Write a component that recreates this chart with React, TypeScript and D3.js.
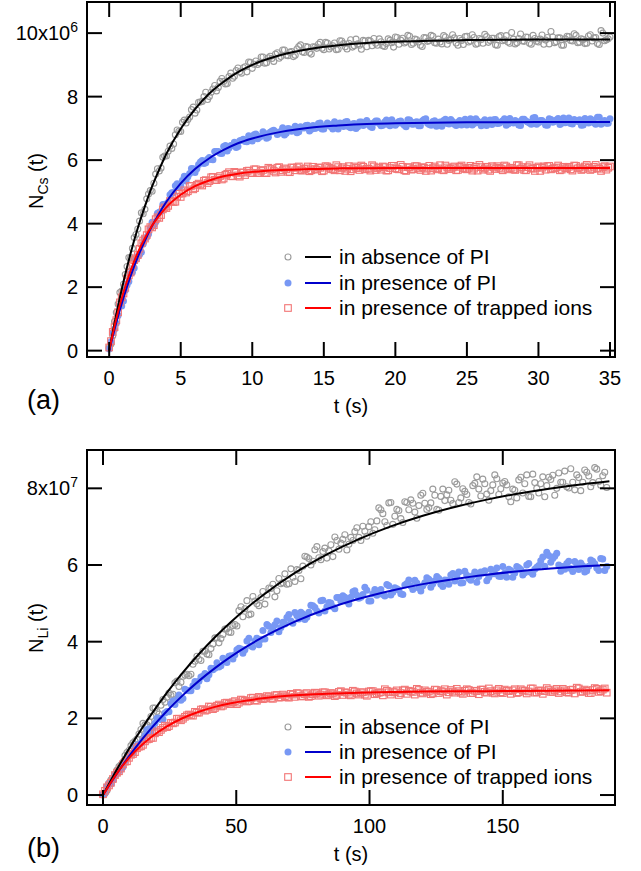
import React from "react";
import * as d3 from "d3";

const FONT = "'Liberation Sans', Arial, Helvetica, sans-serif";

// ---------- Panel (a): Cs, units of 1e6, t in s ----------
// two interleaved sample sets: t = i*0.25 and t = 0.125 + i*0.25
const stepA = 0.25;
const grayA = [0.1,0.47,1.2,1.83,2.09,2.65,2.93,3.56,3.83,4.34,4.45,4.93,5.02,5.56,5.66,6.09,6.13,6.44,6.51,6.95,6.9,7.26,7.28,7.59,7.48,7.82,7.85,8.14,8.0,8.24,8.18,8.48,8.48,8.41,8.74,8.64,8.9,8.74,8.94,9.09,8.89,9.12,9.06,9.25,9.07,9.27,9.11,9.38,9.26,9.47,9.29,9.42,9.3,9.58,9.41,9.58,9.39,9.57,9.52,9.71,9.48,9.69,9.56,9.69,9.49,9.75,9.57,9.68,9.56,9.81,9.62,9.77,9.57,9.75,9.83,9.62,9.73,9.58,9.82,9.7,9.88,
9.65,9.84,9.72,9.9,9.68,9.79,9.62,9.86,9.74,9.93,9.7,9.81,9.66,9.88,9.77,9.95,9.69,9.83,9.64,9.9,9.75,9.86,9.67,9.8,9.96,9.71,9.84,9.63,9.89,9.76,9.92,9.68,9.81,9.7,9.97,9.74,9.87,9.65,9.83,9.72,9.94,9.78,9.66,9.88,9.73,9.85,9.62,9.9,9.77,9.98,9.7,9.82,9.67,9.91,9.75,9.86,9.64,10.0,9.79,9.88];
const grayA2 = [0.21,0.92,1.47,1.88,2.40,2.93,3.22,3.66,4.08,4.31,4.78,5.04,5.27,5.73,5.75,6.13,6.28,6.37,6.80,6.91,7.19,7.17,7.36,7.67,7.58,7.83,8.0,7.91,8.14,8.35,8.29,8.57,8.40,8.63,8.58,8.82,8.78,8.91,8.78,9.08,9.02,9.01,9.25,9.05,9.22,9.20,9.34,9.21,9.47,9.30,9.40,9.26,9.50,9.63,9.39,9.56,9.34,9.56,9.65,9.52,9.71,9.50,9.60,9.48,9.76,9.67,9.50,9.79,9.60,9.66,9.49,9.75,9.77,9.60,9.68,9.82,9.60,9.67,9.77,9.56,9.86,9.78,9.69,9.93,9.64,9.81,9.72,9.58,9.85,9.76,9.90,9.68,9.72,9.92,9.65,9.80,9.85,9.62,9.77,9.89,9.72,9.95,9.65,9.83,9.68,9.89,9.77,9.84,9.62,9.92,9.79,9.72,10.02,9.66,9.83,9.75,9.88,9.68,9.93,9.74,9.81,9.65,9.86,10.05,9.70,9.85,9.62,9.82,9.89,9.75,9.93,9.71,9.80,9.68,9.95,9.85,9.67,10.08,9.76,9.82];
const blueA = [0.05,0.56,0.86,1.41,1.56,2.07,2.44,2.6,2.97,3.1,3.54,3.67,4.04,4.05,4.36,4.6,4.59,4.91,4.98,5.26,5.19,5.49,5.48,5.74,5.61,5.86,5.99,5.92,6.08,6.01,6.27,6.22,6.43,6.29,6.46,6.56,6.43,6.63,6.59,6.77,6.6,6.82,6.72,6.89,6.69,6.88,6.94,6.81,6.91,6.79,7.0,6.91,7.07,6.89,7.02,7.09,6.92,7.09,7.02,7.17,6.98,7.17,7.05,7.21,6.98,7.15,7.2,7.05,7.14,7.0,7.2,7.09,7.25,
7.06,7.18,7.23,7.08,7.2,7.12,7.27,7.1,7.22,7.15,7.05,7.26,7.13,7.21,7.08,7.28,7.16,7.1,7.24,7.17,7.07,7.29,7.14,7.22,7.09,7.25,7.18,7.11,7.3,7.15,7.23,7.08,7.27,7.19,7.12,7.28,7.16,7.24,7.1,7.31,7.17,7.22,7.09,7.29,7.2,7.13,7.34,7.18,7.25,7.11,7.3,7.19,7.26,7.12,7.33,7.2,7.15,7.28,7.22,7.1,7.31,7.17,7.26,7.13,7.35,7.21,7.16,7.3];
const blueA2 = [0.28,0.67,1.11,1.41,1.90,2.18,2.47,2.87,3.03,3.36,3.57,3.86,3.96,4.33,4.39,4.61,4.67,4.97,5.19,5.14,5.37,5.34,5.58,5.73,5.73,5.94,5.89,6.03,6.02,6.27,6.27,6.21,6.46,6.38,6.47,6.40,6.61,6.66,6.58,6.66,6.80,6.67,6.75,6.84,6.72,6.92,6.89,6.85,7.02,6.85,6.98,6.94,6.86,7.05,7.01,7.10,6.97,7.0,7.15,6.98,7.08,7.12,6.98,7.08,7.17,7.06,7.22,7.02,7.15,7.05,7.20,7.12,7.17,7.03,7.23,7.15,7.10,7.26,7.08,7.18,7.15,7.23,7.10,7.27,7.14,7.19,7.08,7.23,7.30,7.12,7.22,7.07,7.20,7.25,7.15,7.28,7.13,7.19,7.11,7.29,7.23,7.11,7.30,7.17,7.21,7.09,7.26,7.27,7.15,7.20,7.30,7.14,7.19,7.25,7.11,7.29,7.23,7.17,7.33,7.13,7.25,7.19,7.10,7.28,7.22,7.31,7.16,7.18,7.33,7.14,7.24,7.27,7.11,7.21,7.30,7.18,7.35,7.13,7.25,7.16];
const redA = [0.1,0.59,0.96,1.52,1.8,2.27,2.46,2.85,3.01,3.38,3.53,3.82,3.88,4.14,4.18,4.45,4.49,4.71,4.68,4.85,4.84,5.05,5.02,5.19,5.12,5.26,5.2,5.37,5.34,5.47,5.37,5.5,5.42,5.57,5.5,5.63,5.52,5.61,5.53,5.67,5.59,5.71,5.59,5.69,5.59,5.72,5.66,5.76,5.63,5.74,5.63,5.77,5.68,5.8,5.67,5.74,5.65,
5.79,5.7,5.76,5.67,5.8,5.72,5.68,5.78,5.74,5.66,5.81,5.71,5.76,5.69,5.79,5.73,5.67,5.8,5.75,5.7,5.78,5.68,5.82,5.74,5.71,5.79,5.66,5.77,5.72,5.81,5.69,5.76,5.73,5.67,5.8,5.74,5.7,5.83,5.72,5.77,5.68,5.79,5.75,5.71,5.82,5.73,5.67,5.78,5.74,5.7,5.81,5.72,5.76,5.68,5.8,5.75,5.71,5.84,5.73,5.69,5.78,5.74,5.66,5.8,5.76,5.7,5.82,5.73,5.77,5.68,5.79,5.75,5.71,5.83,5.74,5.69,5.8,5.76,5.72,5.85,5.73,5.78,5.7,5.8];
const redA2 = [0.30,0.74,1.21,1.68,1.98,2.37,2.69,2.91,3.21,3.47,3.64,3.89,3.95,4.20,4.27,4.51,4.56,4.71,4.69,4.94,4.95,4.98,5.18,5.08,5.22,5.23,5.35,5.28,5.46,5.38,5.45,5.39,5.54,5.62,5.49,5.60,5.48,5.61,5.66,5.60,5.71,5.60,5.66,5.60,5.76,5.71,5.61,5.78,5.68,5.71,5.62,5.76,5.77,5.68,5.72,5.80,5.68,5.72,5.77,5.65,5.81,5.76,5.71,5.84,5.68,5.78,5.73,5.65,5.80,5.75,5.83,5.71,5.73,5.84,5.69,5.77,5.80,5.67,5.75,5.82,5.72,5.85,5.68,5.78,5.70,5.81,5.74,5.78,5.66,5.82,5.75,5.71,5.84,5.68,5.77,5.73,5.80,5.69,5.83,5.72,5.76,5.67,5.79,5.85,5.70,5.79,5.66,5.77,5.81,5.73,5.83,5.71,5.76,5.69,5.84,5.78,5.68,5.84,5.73,5.76,5.66,5.80,5.81,5.71,5.75,5.83,5.70,5.74,5.79,5.67,5.82,5.77,5.72,5.85,5.69,5.79,5.74,5.66,5.81,5.76];
const fitTA = [0,0.5,1,1.5,2,2.5,3,3.5,4,5,6,7,8,9,10,12,14,16,18,20,25,30,35];
const fitBlackA = [0,1.15,2.17,3.07,3.86,4.55,5.17,5.71,6.2,6.99,7.61,8.1,8.47,8.77,9.0,9.31,9.5,9.62,9.69,9.73,9.78,9.8,9.8];
const fitBlueA = [0,0.89,1.67,2.35,2.95,3.47,3.93,4.33,4.69,5.27,5.72,6.06,6.32,6.53,6.68,6.89,7.02,7.09,7.14,7.16,7.19,7.2,7.2];
const fitRedA = [0,1.01,1.84,2.52,3.09,3.55,3.94,4.25,4.52,4.91,5.18,5.36,5.49,5.57,5.63,5.69,5.72,5.74,5.745,5.75,5.75,5.75,5.75];
const xTicksA = [0,5,10,15,20,25,30,35];
const yTicksA = [0,2,4,6,8,10];

// ---------- Panel (b): Li, units of 1e7, t in s ----------
// two interleaved sample sets: t = i*1.5 and t = 0.75 + i*1.5
const stepB = 1.5;
const grayB = [0.02,0.12,0.40,0.53,0.74,0.86,1.11,1.29,1.41,1.59,1.87,1.83,2.05,2.27,2.11,2.49,2.55,2.61,2.93,2.83,3.10,3.15,3.15,3.49,3.54,3.75,3.68,3.82,4.10,3.97,4.19,4.34,4.24,4.45,4.81,4.65,5.07,4.72,5.06,4.94,5.31,5.22,5.39,5.17,5.65,5.54,5.50,5.90,5.57,5.86,5.97,6.21,6.0,6.40,6.19,6.35,6.18,6.53,6.73,6.41,6.67,6.39,6.72,6.87,6.72,7.01,6.75,7.13,6.92,7.49,7.34,7.03,7.63,7.27,7.42,7.11,7.63,7.70,7.38,7.55,7.87,7.45,7.62,7.82,7.43,7.98,7.83,7.69,8.17,7.63,7.99,7.84,7.59,8.13,7.98,8.24,7.85,7.94,8.35,7.84,8.14,8.09,7.65,7.95,8.22,7.88,8.35,7.78,8.15,7.88,8.30,8.07,8.23,7.82,8.40,8.16,8.04,8.51,7.96,8.28,8.16,8.42,8.04,8.54,8.18,8.33,8.02];
const grayB2 = [0.04,0.31,0.40,0.65,0.79,1.03,1.16,1.36,1.46,1.71,1.83,1.92,2.27,2.18,2.34,2.42,2.66,2.63,2.97,2.94,3.13,3.11,3.41,3.62,3.51,3.75,3.66,3.94,4.10,4.08,4.33,4.25,4.42,4.41,4.91,4.86,4.70,5.18,4.99,5.15,4.98,5.40,5.50,5.33,5.51,5.77,5.51,5.68,5.88,5.64,6.23,6.17,6.10,6.48,6.14,6.44,6.37,6.22,6.64,6.57,6.79,6.54,6.64,6.97,6.64,6.88,7.0,6.83,7.15,7.44,7.13,7.62,7.06,7.45,7.21,7.65,7.44,7.61,7.22,7.82,7.61,7.50,7.98,7.45,7.79,7.68,7.95,7.60,8.11,7.75,7.92,7.63,8.07,8.30,7.80,8.12,7.69,8.09,8.25,7.99,8.18,7.78,7.98,7.75,8.29,8.12,7.79,8.37,8.0,8.12,7.78,8.29,8.34,8.0,8.16,8.45,8.01,8.16,8.35,7.94,8.48,8.32,8.15,8.5,8.08,8.42];
const blueB = [0.0,0.23,0.29,0.51,0.63,0.73,0.96,1.07,1.26,1.32,1.44,1.70,1.65,1.87,2.01,1.98,2.18,2.38,2.36,2.61,2.52,2.73,2.72,2.96,2.97,3.10,3.03,3.31,3.31,3.34,3.57,3.46,3.63,3.66,3.83,3.70,4.02,3.89,4.02,3.92,4.29,4.45,4.24,4.44,4.26,4.51,4.63,4.54,4.76,4.59,4.72,4.64,4.95,4.89,4.75,5.08,4.91,5.01,4.86,5.15,5.20,5.05,5.16,5.33,5.13,5.23,5.34,5.06,5.36,5.30,5.23,5.49,5.22,5.41,5.35,5.23,5.52,5.45,5.60,5.40,5.46,5.67,5.42,5.59,5.65,5.44,5.60,5.74,5.58,5.82,5.54,5.73,5.60,5.82,5.70,5.79,5.59,5.89,5.77,5.71,5.96,5.68,5.86,5.79,5.93,5.74,6.0,5.81,5.89,5.99,6.21,6.33,6.07,6.23,6.0,5.96,6.04,5.91,6.09,5.88,5.98,5.85,6.13,6.03,5.86,6.16,5.96];
const blueB2 = [0.05,0.30,0.39,0.57,0.67,0.88,1.06,1.11,1.30,1.35,1.55,1.73,1.76,2.0,1.97,2.14,2.17,2.45,2.49,2.47,2.76,2.72,2.85,2.83,3.08,3.17,3.14,3.27,3.45,3.37,3.49,3.62,3.55,3.79,3.81,3.79,4.09,3.86,4.09,4.06,4.07,4.40,4.36,4.54,4.37,4.46,4.71,4.48,4.68,4.77,4.58,4.77,4.94,4.80,5.07,4.80,5.02,4.91,5.15,5.06,5.16,4.98,5.30,5.21,5.16,5.42,5.06,5.25,5.21,5.36,5.19,5.46,5.29,5.38,5.25,5.48,5.61,5.36,5.53,5.32,5.54,5.63,5.51,5.70,5.50,5.61,5.50,5.78,5.70,5.53,5.84,5.65,5.72,5.55,5.82,5.85,5.68,5.77,5.92,5.70,5.79,5.89,5.68,5.96,5.88,5.80,6.04,5.76,5.94,6.11,5.97,6.25,6.17,6.31,5.84,5.89,6.10,5.83,5.98,6.05,5.82,5.97,6.10,5.92,6.17,5.86];
const redB = [0.02,0.2,0.32,0.52,0.62,0.8,0.88,1.05,1.12,1.26,1.31,1.45,1.49,1.61,1.64,1.75,1.77,1.88,1.89,1.99,1.99,2.08,2.08,2.17,2.15,2.24,2.22,2.3,2.27,2.36,2.33,2.41,2.37,2.45,2.41,2.48,2.44,2.53,2.47,2.56,2.5,2.58,2.52,2.6,2.54,2.62,2.55,2.64,2.56,2.65,2.57,2.66,2.58,2.67,2.59,2.68,2.6,2.66,2.58,2.69,2.61,2.67,2.6,2.7,2.62,2.68,2.59,2.71,2.63,2.67,2.6,2.72,2.62,2.68,2.61,2.73,2.64,2.7,2.62,2.74,2.65,2.69,2.63,2.75,2.66,2.7,2.62,2.74,2.67,2.71,2.64,2.76,2.66,2.72,2.63,2.75,2.67,2.71,2.65,2.77,2.66,2.72,2.64,2.76,2.68,2.73,2.65,2.78,2.67,2.72,2.64,2.79,2.69,2.73,2.66,2.77,2.68,2.74,2.65,2.78,2.7,2.72,2.66,2.79,2.69,2.75,2.67];
const redB2 = [0.11,0.25,0.42,0.58,0.69,0.87,0.97,1.07,1.22,1.27,1.40,1.46,1.49,1.66,1.70,1.81,1.80,1.87,1.99,1.95,2.04,2.10,2.07,2.15,2.23,2.20,2.31,2.24,2.33,2.31,2.40,2.38,2.42,2.37,2.49,2.46,2.45,2.54,2.46,2.53,2.52,2.57,2.51,2.61,2.55,2.58,2.54,2.62,2.66,2.58,2.63,2.56,2.63,2.66,2.62,2.68,2.62,2.65,2.61,2.71,2.68,2.62,2.72,2.65,2.68,2.62,2.70,2.71,2.65,2.68,2.76,2.68,2.70,2.73,2.66,2.75,2.72,2.69,2.77,2.67,2.73,2.70,2.65,2.74,2.71,2.76,2.68,2.70,2.77,2.67,2.72,2.74,2.66,2.71,2.75,2.69,2.78,2.67,2.73,2.68,2.75,2.71,2.73,2.66,2.76,2.72,2.70,2.78,2.68,2.73,2.71,2.75,2.69,2.77,2.70,2.73,2.67,2.75,2.80,2.69,2.75,2.66,2.74,2.77,2.71,2.78];
const fitTB = [0,6,12,18,24,30,36,42,48,54,60,72,84,96,108,120,132,144,156,168,180,190];
const fitBlackB = [0,0.763,1.458,2.092,2.67,3.198,3.678,4.117,4.516,4.881,5.213,5.793,6.275,6.675,7.008,7.285,7.515,7.706,7.865,7.998,8.108,8.185];
const fitBlueB = [0,0.641,1.215,1.73,2.192,2.606,2.978,3.311,3.61,3.877,4.117,4.525,4.854,5.118,5.33,5.501,5.638,5.748,5.837,5.908,5.965,6.004];
const fitRedB = [0,0.644,1.135,1.509,1.793,2.01,2.174,2.3,2.395,2.468,2.523,2.6,2.64,2.666,2.685,2.7,2.705,2.71,2.715,2.72,2.725,2.73];
const xTicksB = [0,50,100,150];
const yTicksB = [0,2,4,6,8];

const legendLabels = ["in absence of PI", "in presence of PI", "in presence of trapped ions"];

const GRAY = "#9b9b9b";
const BLUE_PT = "#7898f4";
const RED_PT = "#f27575";
const LINE_COLORS = ["#000000", "#0000cc", "#ff0000"];

const LEFT = 87;
const RIGHT = 615;

type Series = { vals: number[]; t0: number; step: number; kind: number };

type PanelProps = {
  top: number;
  bottom: number;
  xDomain: [number, number];
  yDomain: [number, number];
  series: Series[];
  fitT: number[];
  fits: number[][];
  xTicks: number[];
  yTicks: number[];
  expValue: number;
  expMain: string;
  expSup: string;
  sub: string;
  titleCenter: number;
  tag: string;
  legendY: number[];
};

function Marker({ kind, cx, cy }: { kind: number; cx: number; cy: number }) {
  if (kind === 0) return <circle cx={cx} cy={cy} r={3} fill="none" stroke={GRAY} strokeWidth={1.1} />;
  if (kind === 1) return <circle cx={cx} cy={cy} r={3.5} fill={BLUE_PT} />;
  return <rect x={cx - 3.3} y={cy - 3.3} width={6.6} height={6.6} fill="none" stroke={RED_PT} strokeWidth={1.1} />;
}

function Panel(p: PanelProps) {
  const x = d3.scaleLinear().domain(p.xDomain).range([LEFT, RIGHT]);
  const y = d3.scaleLinear().domain(p.yDomain).range([p.bottom, p.top]);
  const line = d3
    .line<[number, number]>()
    .x((d) => x(d[0]))
    .y((d) => y(d[1]))
    .curve(d3.curveMonotoneX);
  const tick = 15;
  const labelBase = p.bottom + 28;
  return (
    <g fontFamily={FONT} fill="#000">
      {p.series.map((s, k) => (
        <g key={k}>
          {s.vals.map((v, i) => (
            <Marker key={i} kind={s.kind} cx={x(s.t0 + i * s.step)} cy={y(v)} />
          ))}
        </g>
      ))}
      {p.fits.map((vals, k) => (
        <path
          key={k}
          d={line(p.fitT.map((t, i) => [t, vals[i]] as [number, number])) || ""}
          fill="none"
          stroke={LINE_COLORS[k]}
          strokeWidth={2}
        />
      ))}
      <rect x={LEFT} y={p.top} width={RIGHT - LEFT} height={p.bottom - p.top} fill="none" stroke="#000" strokeWidth={2} />
      {p.xTicks.map((t) => (
        <g key={"x" + t}>
          <line x1={x(t)} x2={x(t)} y1={p.bottom} y2={p.bottom - tick} stroke="#000" strokeWidth={2} />
          <line x1={x(t)} x2={x(t)} y1={p.top} y2={p.top + tick} stroke="#000" strokeWidth={2} />
          <text x={x(t)} y={labelBase} textAnchor="middle" fontSize={20}>
            {t}
          </text>
        </g>
      ))}
      {p.yTicks.map((v) => (
        <g key={"y" + v}>
          <line x1={LEFT} x2={LEFT + tick} y1={y(v)} y2={y(v)} stroke="#000" strokeWidth={2} />
          <line x1={RIGHT} x2={RIGHT - tick} y1={y(v)} y2={y(v)} stroke="#000" strokeWidth={2} />
          {v === p.expValue ? (
            <text x={78} y={y(v) + 7} textAnchor="end" fontSize={20}>
              {p.expMain}
              <tspan dy={-8} fontSize={14}>
                {p.expSup}
              </tspan>
            </text>
          ) : (
            <text x={78} y={y(v) + 7} textAnchor="end" fontSize={20}>
              {v}
            </text>
          )}
        </g>
      ))}
      <text
        transform={`translate(43,${p.titleCenter}) rotate(-90)`}
        textAnchor="middle"
        fontSize={20}
        style={{ whiteSpace: "pre" }}
      >
        N
        <tspan dy={5} fontSize={14}>
          {p.sub}
        </tspan>
        <tspan dy={-5}>{" (t)"}</tspan>
      </text>
      <text x={(LEFT + RIGHT) / 2} y={p.bottom + 56} textAnchor="middle" fontSize={20}>
        t (s)
      </text>
      <text x={27} y={p.bottom + 52} fontSize={27}>
        {p.tag}
      </text>
      {legendLabels.map((lab, k) => (
        <g key={lab}>
          <Marker kind={k} cx={288} cy={p.legendY[k]} />
          <line x1={305} x2={331} y1={p.legendY[k]} y2={p.legendY[k]} stroke={LINE_COLORS[k]} strokeWidth={2} />
          <text x={339} y={p.legendY[k] + 7} fontSize={21}>
            {lab}
          </text>
        </g>
      ))}
    </g>
  );
}

export default function App() {
  const seriesA: Series[] = [
    { vals: grayA, t0: 0, step: stepA, kind: 0 },
    { vals: grayA2, t0: stepA / 2, step: stepA, kind: 0 },
    { vals: blueA, t0: 0, step: stepA, kind: 1 },
    { vals: blueA2, t0: stepA / 2, step: stepA, kind: 1 },
    { vals: redA, t0: 0, step: stepA, kind: 2 },
    { vals: redA2, t0: stepA / 2, step: stepA, kind: 2 },
  ];
  const seriesB: Series[] = [
    { vals: grayB, t0: 0, step: stepB, kind: 0 },
    { vals: grayB2, t0: stepB / 2, step: stepB, kind: 0 },
    { vals: blueB, t0: 0, step: stepB, kind: 1 },
    { vals: blueB2, t0: stepB / 2, step: stepB, kind: 1 },
    { vals: redB, t0: 0, step: stepB, kind: 2 },
    { vals: redB2, t0: stepB / 2, step: stepB, kind: 2 },
  ];
  return (
    <svg width={641} height={871} style={{ position: "absolute", left: 0, top: 0, background: "#fff" }}>
      <rect x={0} y={0} width={641} height={871} fill="#fff" />
      <Panel
        top={2}
        bottom={357}
        xDomain={[-1.55, 35.35]}
        yDomain={[-0.2, 10.98]}
        series={seriesA}
        fitT={fitTA}
        fits={[fitBlackA, fitBlueA, fitRedA]}
        xTicks={xTicksA}
        yTicks={yTicksA}
        expValue={10}
        expMain="10x10"
        expSup="6"
        sub="Cs"
        titleCenter={181}
        tag="(a)"
        legendY={[257, 283, 308]}
      />
      <Panel
        top={450}
        bottom={805}
        xDomain={[-6, 192.1]}
        yDomain={[-0.26, 9.0]}
        series={seriesB}
        fitT={fitTB}
        fits={[fitBlackB, fitBlueB, fitRedB]}
        xTicks={xTicksB}
        yTicks={yTicksB}
        expValue={8}
        expMain="8x10"
        expSup="7"
        sub="Li"
        titleCenter={628}
        tag="(b)"
        legendY={[727, 752, 777]}
      />
    </svg>
  );
}
